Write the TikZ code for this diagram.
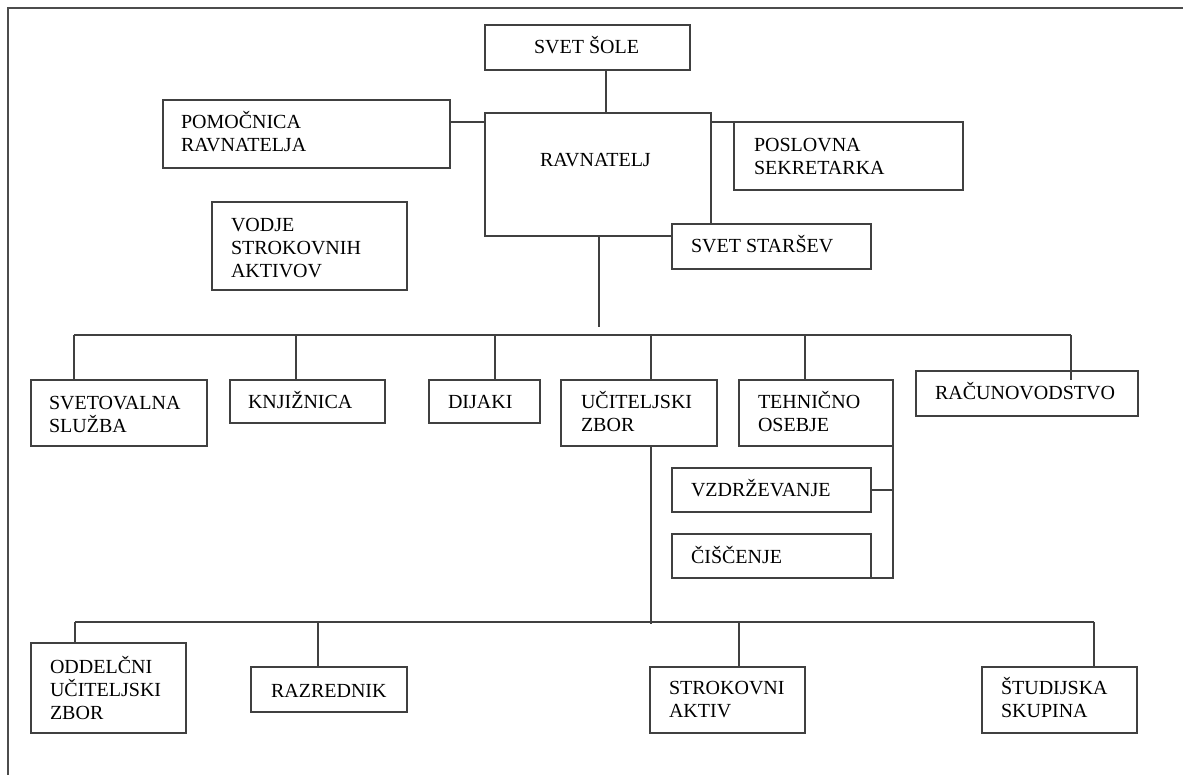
\documentclass[tikz,border=0pt]{standalone}
\usepackage{fontspec}
\setmainfont{Liberation Serif}
\tikzset{
  box/.style={draw=black!75, line width=1.3pt, fill=white, inner sep=0pt, outer sep=0pt},
  lbl/.style={inner sep=0pt, outer sep=0pt, align=left, anchor=base west, font=\fontsize{20}{23}\selectfont, text=black},
  conn/.style={draw=black!75, line width=1.3pt},
  framel/.style={draw=black!70, line width=1.5pt}
}
\newcommand\bx[5]{\node[box, minimum width={#4-#2}, minimum height={#5-#3}] (#1) at ({(#2+#4)/2},{(#3+#5)/2}) {};}
\begin{document}
\begin{tikzpicture}[x=1pt,y=-1pt]
\useasboundingbox (0,0) rectangle (1183,774);
% frame
\draw[framel] (8,790) -- (8,8) -- (1195,8);

% boxes
\bx{sole}{485}{25}{690}{70}
\bx{pom}{163}{100}{450}{168}
\bx{rav}{485}{113}{711}{236}
\bx{pos}{734}{122}{963}{190}
\bx{vod}{212}{202}{407}{290}
\bx{sta}{672}{224}{871}{269}
\bx{sv}{31}{380}{207}{446}
\bx{knj}{230}{380}{385}{423}
\bx{dij}{429}{380}{540}{423}
\bx{uci}{561}{380}{717}{446}
\bx{teh}{739}{380}{893}{446}
\bx{rac}{916}{371}{1138}{416}
\bx{vzd}{672}{468}{871}{512}
\bx{cis}{672}{534}{871}{578}
\bx{odd}{31}{643}{186}{733}
\bx{raz}{251}{667}{407}{712}
\bx{stro}{650}{667}{805}{733}
\bx{stu}{982}{667}{1137}{733}

% texts (anchor = baseline of the last line)
\node[lbl] (tsole) at (534,53) {SVET ŠOLE};
\node[lbl] (tpom) at (181,151) {POMOČNICA\\RAVNATELJA};
\node[lbl] (trav) at (540,166) {RAVNATELJ};
\node[lbl] (tpos) at (754,174) {POSLOVNA\\SEKRETARKA};
\node[lbl] (tvod) at (231,277) {VODJE\\STROKOVNIH\\AKTIVOV};
\node[lbl] (tsta) at (691,252) {SVET STARŠEV};
\node[lbl] (tsv) at (49,432) {SVETOVALNA\\SLUŽBA};
\node[lbl] (tknj) at (248,408) {KNJIŽNICA};
\node[lbl] (tdij) at (448,408) {DIJAKI};
\node[lbl] (tuci) at (581,431) {UČITELJSKI\\ZBOR};
\node[lbl] (tteh) at (758,431) {TEHNIČNO\\OSEBJE};
\node[lbl] (trac) at (935,399) {RAČUNOVODSTVO};
\node[lbl] (tvzd) at (691,496) {VZDRŽEVANJE};
\node[lbl] (tcis) at (691,563) {ČIŠČENJE};
\node[lbl] (todd) at (50,719) {ODDELČNI\\UČITELJSKI\\ZBOR};
\node[lbl] (traz) at (271,697) {RAZREDNIK};
\node[lbl] (tstro) at (669,717) {STROKOVNI\\AKTIV};
\node[lbl] (tstu) at (1001,717) {ŠTUDIJSKA\\SKUPINA};

% top connectors
\coordinate (c1) at (606,0);
\draw[conn] (sole.south -| c1) -- (rav.north -| c1);
\coordinate (c2) at (0,122);
\draw[conn] (pom.east |- c2) -- (rav.west |- c2);
\draw[conn] (rav.east |- pos.north west) -- (pos.north west);

% main vertical and first bus
\coordinate (m1) at (599,327);
\draw[conn] (rav.south -| m1) -- (m1);
\coordinate (d1) at (74,335);
\coordinate (d2) at (296,335);
\coordinate (d3) at (495,335);
\coordinate (d4) at (651,335);
\coordinate (d5) at (805,335);
\coordinate (d6) at (1071,335);
\draw[conn] (d1) -- (d6);
\draw[conn] (d1) -- (d1 |- sv.north);
\draw[conn] (d2) -- (d2 |- knj.north);
\draw[conn] (d3) -- (d3 |- dij.north);
\draw[conn] (d4) -- (d4 |- uci.north);
\draw[conn] (d5) -- (d5 |- teh.north);
\draw[conn] (d6) -- ++(0,45);

% technical staff
\draw[conn] (teh.south east) -- (teh.south east |- cis.south east) -- (cis.south east);
\draw[conn] (vzd.east) -- (vzd.east -| teh.east);

% teachers' council and second bus
\coordinate (u1) at (651,624);
\draw[conn] (uci.south -| u1) -- (u1);
\coordinate (e1) at (75,622);
\coordinate (e2) at (318,622);
\coordinate (e3) at (739,622);
\coordinate (e4) at (1094,622);
\draw[conn] (e1) -- (e4);
\draw[conn] (e1) -- (e1 |- odd.north);
\draw[conn] (e2) -- (e2 |- raz.north);
\draw[conn] (e3) -- (e3 |- stro.north);
\draw[conn] (e4) -- (e4 |- stu.north);
\end{tikzpicture}
\end{document}
